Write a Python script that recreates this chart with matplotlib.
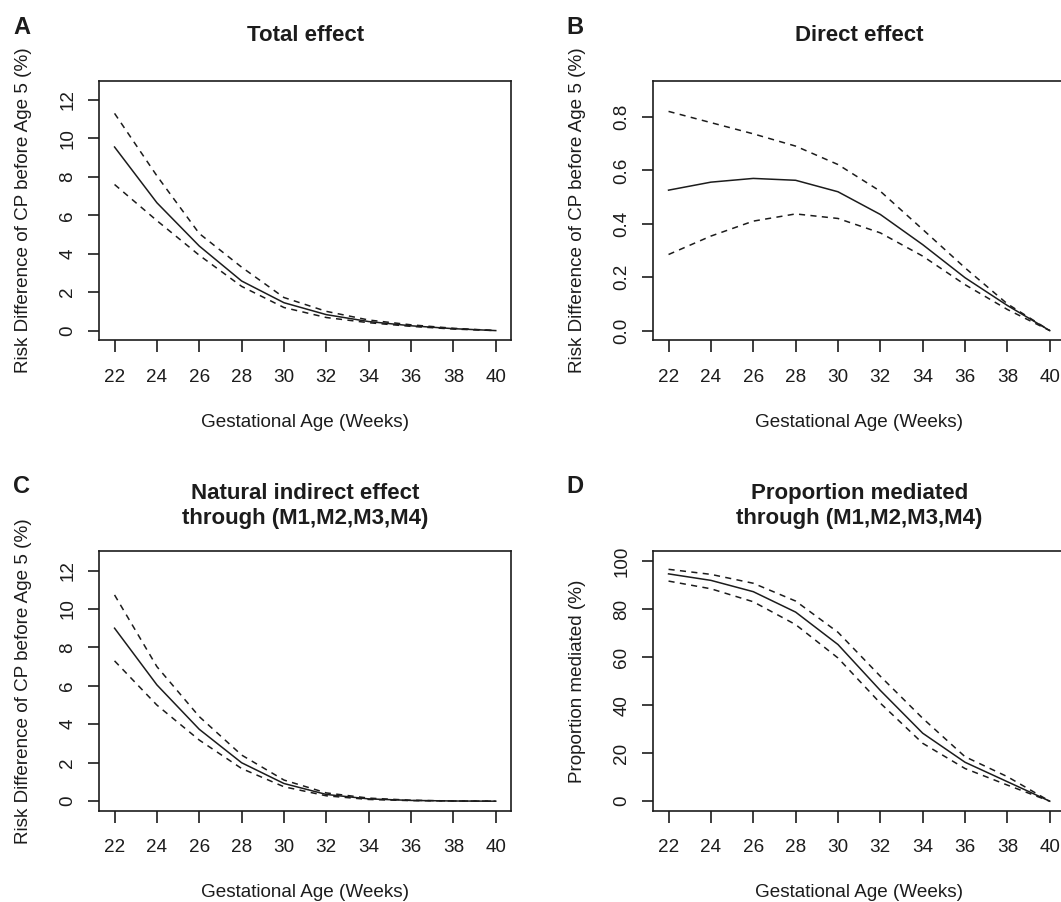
import numpy as np
import matplotlib.pyplot as plt

plt.rcParams['font.family'] = ['Liberation Sans', 'DejaVu Sans']

W, H = 1061, 902
INK = '#1c1c1c'

weeks = [22, 24, 26, 28, 30, 32, 34, 36, 38, 40]

# A: total effect
total_est = [9.55, 6.65, 4.4, 2.58, 1.45, 0.83, 0.47, 0.25, 0.1, 0.0]
total_hi = [11.3, 8.05, 5.05, 3.3, 1.72, 1.0, 0.55, 0.3, 0.12, 0.0]
total_lo = [7.6, 5.72, 3.92, 2.3, 1.2, 0.68, 0.41, 0.22, 0.08, 0.0]

# B: direct effect
direct_est = [0.526, 0.556, 0.570, 0.563, 0.520, 0.435, 0.322, 0.198, 0.094, 0.0]
direct_hi = [0.821, 0.779, 0.737, 0.691, 0.622, 0.522, 0.379, 0.235, 0.100, 0.0]
direct_lo = [0.285, 0.354, 0.410, 0.437, 0.420, 0.366, 0.279, 0.172, 0.079, 0.0]

# C: natural indirect effect
indirect_est = [9.0, 6.05, 3.74, 2.0, 0.92, 0.35, 0.12, 0.04, 0.01, 0.0]
indirect_hi = [10.73, 7.0, 4.4, 2.4, 1.1, 0.43, 0.16, 0.05, 0.01, 0.0]
indirect_lo = [7.3, 5.0, 3.18, 1.7, 0.75, 0.28, 0.09, 0.03, 0.01, 0.0]

# D: proportion mediated
prop_est = [94.6, 91.9, 87.2, 78.7, 65.2, 46.1, 28.3, 16.2, 8.1, 0.0]
prop_hi = [96.5, 94.4, 90.7, 83.3, 70.3, 52.0, 34.5, 18.5, 10.2, 0.0]
prop_lo = [91.6, 88.4, 83.0, 73.5, 59.6, 40.8, 24.1, 13.6, 6.7, 0.0]

rd_label = 'Risk Difference of CP before Age 5 (%)'
panels = [
    ('A', 'Total effect', rd_label, total_est, total_hi, total_lo, (0, 12.5), np.arange(0, 13, 2), '{:.0f}'),
    ('B', 'Direct effect', rd_label, direct_est, direct_hi, direct_lo, (0, 0.9), np.arange(0, 0.81, 0.2), '{:.1f}'),
    ('C', 'Natural indirect effect\nthrough (M1,M2,M3,M4)', rd_label, indirect_est, indirect_hi, indirect_lo,
     (0, 12.5), np.arange(0, 13, 2), '{:.0f}'),
    ('D', 'Proportion mediated\nthrough (M1,M2,M3,M4)', 'Proportion mediated (%)', prop_est, prop_hi, prop_lo,
     (0, 100), np.arange(0, 101, 20), '{:.0f}'),
]

# box positions in pixels: (left, top)
boxes = [(99.3, 80.7), (653.3, 80.7), (99.3, 551.3), (653.3, 551.3)]
box_w, box_h = 411.7, 259.5
letter_pos = [(21.6, 27), (574.5, 27), (22, 486.7), (574.5, 486.7)]

fig = plt.figure(figsize=(W / 100, H / 100), dpi=100)


def r_range(lo, hi):
    pad = (hi - lo) * 0.04
    return lo - pad, hi + pad


for (letter, title, ylab, est, hi, lo, ylim, yticks, fmt), (bx, by), (lx, ly) in zip(panels, boxes, letter_pos):
    ax = fig.add_axes([bx / W, 1 - (by + box_h) / H, box_w / W, box_h / H])
    ax.plot(weeks, est, color=INK, lw=1.1)
    ax.plot(weeks, hi, color=INK, lw=1.1, linestyle=(0, (4, 3.5)))
    ax.plot(weeks, lo, color=INK, lw=1.1, linestyle=(0, (4, 3.5)))
    ax.set_xlim(*r_range(22, 40))
    ax.set_ylim(*r_range(*ylim))
    ax.set_xticks(weeks)
    ax.set_yticks(yticks)
    ax.set_yticklabels([fmt.format(v) for v in yticks])
    for s in ax.spines.values():
        s.set_linewidth(1.2)
        s.set_color(INK)
    ax.tick_params(axis='x', direction='out', length=8.3, width=1.2, color=INK,
                   labelsize=13.6, labelcolor=INK, pad=12.2)
    ax.tick_params(axis='y', direction='out', length=8.0, width=1.2, color=INK,
                   labelsize=13.6, labelcolor=INK, pad=8.5, labelrotation=90)
    for t in ax.get_yticklabels():
        t.set_va('center')

    cx = (bx + box_w / 2) / W
    fig.text(cx, 1 - (by - 45) / H, title, ha='center', va='center', fontsize=16,
             fontweight='bold', color=INK, linespacing=1.25)
    fig.text(cx, 1 - (by + box_h + 86.5) / H, 'Gestational Age (Weeks)', ha='center',
             va='baseline', fontsize=13.6, color=INK)
    fig.text((bx - 71) / W, 1 - (by + box_h / 2) / H, ylab, ha='center', va='baseline',
             rotation=90, rotation_mode='anchor', fontsize=13.6, color=INK)
    fig.text(lx / W, 1 - ly / H, letter, ha='center', va='center', fontsize=17,
             fontweight='bold', color=INK)

fig.savefig('out.png', dpi=100)
